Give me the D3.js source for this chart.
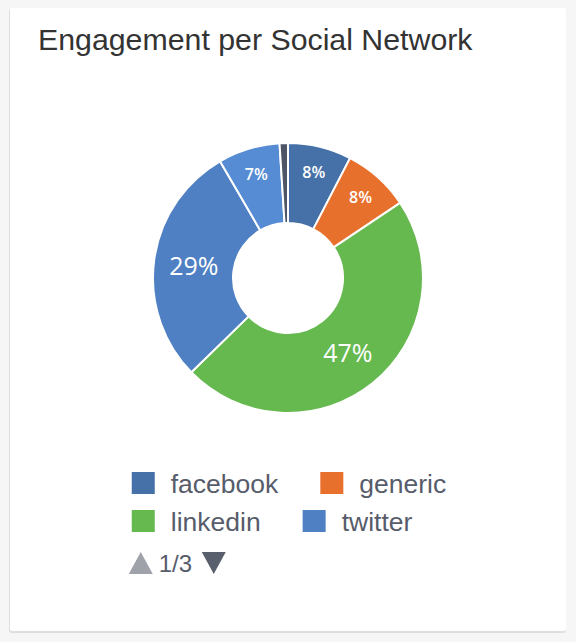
<!DOCTYPE html>
<html>
<head>
<meta charset="utf-8">
<script src="https://cdn.jsdelivr.net/npm/d3@7"></script>
<style>
  html, body { margin: 0; padding: 0; background: #f6f6f6; }
  svg { display: block; }
</style>
</head>
<body>
<svg id="chart" width="576" height="642"></svg>
<script>
// ---- data ----
const title = "Engagement per Social Network";
const categories = ["facebook", "generic", "linkedin", "twitter", "youtube", "instagram"];
const values = [7.6, 8.0, 47.1, 28.9, 7.4, 1.0];
const colors = ["#4571a8", "#e8702d", "#66b94f", "#4f80c3", "#568cd4", "#4d5566"];
const legendPageSize = 4;
const legendPageLabel = "1/3";

// ---- layout ----
const W = 576, H = 642;
const svg = d3.select("#chart");

// card
svg.append("rect").attr("x", 9).attr("y", 9).attr("width", 557).attr("height", 624)
  .attr("rx", 3).attr("fill", "#dedede");
svg.append("rect").attr("x", 10).attr("y", 8).attr("width", 556).attr("height", 623)
  .attr("rx", 2).attr("fill", "#ffffff");

const titleEl = svg.append("text").attr("x", 38).attr("y", 50)
  .attr("font-family", "Liberation Sans, Arial, sans-serif")
  .attr("font-size", 30.3).attr("fill", "#333333").text(title);

const cx = 288, cy = 278, outerR = 135, innerR = 55;
const total = d3.sum(values);
const data = categories.map((c, i) => ({ name: c, value: values[i], color: colors[i] }));

const pie = d3.pie().value(d => d.value).sort(null);
const arc = d3.arc().innerRadius(innerR).outerRadius(outerR);
const arcs = pie(data);

const g = svg.append("g").attr("transform", `translate(${cx},${cy})`);
g.selectAll("path").data(arcs).join("path")
  .attr("d", arc)
  .attr("fill", d => d.data.color)
  .attr("stroke", "#ffffff").attr("stroke-width", 2).attr("stroke-linejoin", "round");

const fmt = v => Math.round(v / total * 100) + "%";
g.selectAll("text.lbl").data(arcs.filter(d => d.data.value / total >= 0.03)).join("text")
  .attr("class", "lbl")
  .each(function(d) {
    const pct = d.data.value / total;
    const big = pct >= 0.15;
    const r = big ? 95 : 109;
    const a = (d.startAngle + d.endAngle) / 2;
    d3.select(this)
      .attr("x", Math.sin(a) * r)
      .attr("y", -Math.cos(a) * r)
      .attr("font-size", big ? 25 : 16)
      .attr("font-weight", big ? 400 : 600);
  })
  .attr("text-anchor", "middle").attr("dominant-baseline", "central")
  .attr("font-family", "Open Sans, sans-serif")
  .attr("fill", "#ffffff")
  .text(d => fmt(d.data.value));

// ---- legend ----
const legendItems = data.slice(0, legendPageSize);
const fontL = "Liberation Sans, Arial, sans-serif";
const lg = svg.append("g");
const fsL = 26.5;
const sym = 23, symGap = 16, itemDist = 42, rowH = 38, perRow = 2;
// measure
const tmp = lg.append("text").attr("font-family", fontL).attr("font-size", fsL);
const widths = legendItems.map(d => { tmp.text(d.name); return sym + symGap + tmp.node().getComputedTextLength(); });
tmp.remove();
const rows = d3.range(Math.ceil(legendItems.length / perRow)).map(r => legendItems.slice(r * perRow, r * perRow + perRow).map((d, j) => ({ d, w: widths[r * perRow + j] })));
const rowWidths = rows.map(r => d3.sum(r, x => x.w) + itemDist * (r.length - 1));
const left = cx + 1 - d3.max(rowWidths) / 2;
rows.forEach((row, ri) => {
  let x = left;
  const y = 472 + ri * rowH;
  row.forEach(({ d, w }) => {
    lg.append("rect").attr("x", x).attr("y", y).attr("width", sym).attr("height", 22).attr("fill", d.color);
    lg.append("text").attr("x", x + sym + symGap).attr("y", y + 21)
      .attr("font-family", fontL).attr("font-size", fsL).attr("fill", "#575c6b").text(d.name);
    x += w + itemDist;
  });
});
// navigation
const ny = 552;
lg.append("path").attr("d", `M${left - 3},${ny + 22} L${left + 9},${ny} L${left + 21},${ny + 22} Z`).attr("fill", "#a0a2aa");
lg.append("text").attr("x", left + 27).attr("y", ny + 20).attr("font-family", fontL)
  .attr("font-size", 24).attr("fill", "#575c6b").text(legendPageLabel);
lg.append("path").attr("d", `M${left + 70},${ny} L${left + 94},${ny} L${left + 82},${ny + 22} Z`).attr("fill", "#5a5f6d");
</script>
</body>
</html>
